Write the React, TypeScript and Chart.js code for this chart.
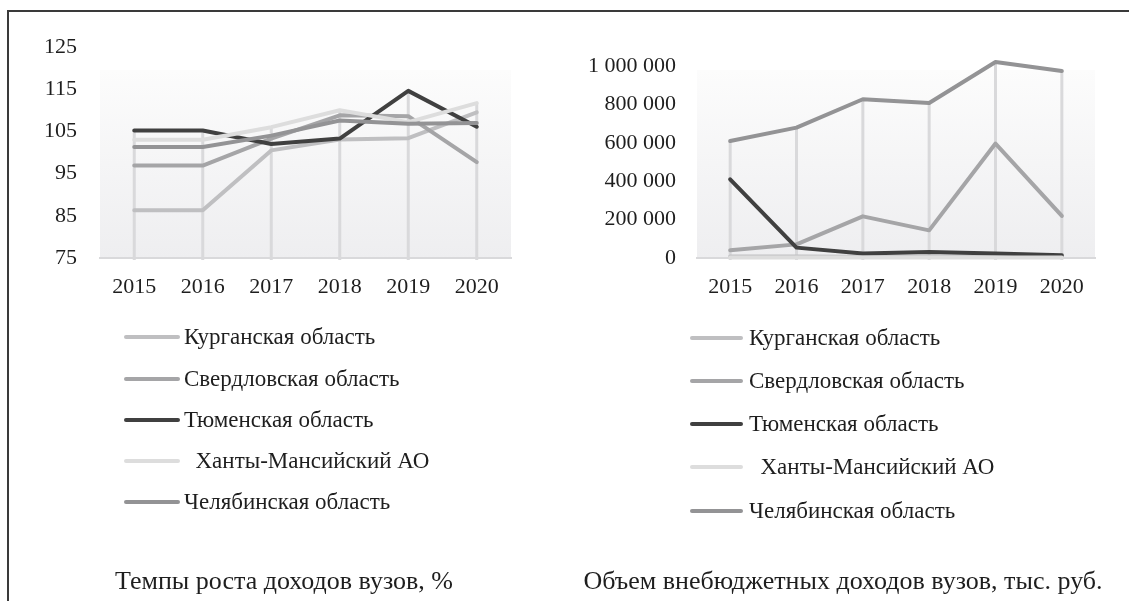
import React, { useEffect, useRef } from 'react';
import { Chart, registerables } from 'chart.js';

Chart.register(...registerables);

const FONT = '"Liberation Serif", "Times New Roman", serif';
const TEXT_COLOR = '#1e1e1e';

// ---- data ----
const years = ['2015', '2016', '2017', '2018', '2019', '2020'];
const regions = [
  'Курганская область',
  'Свердловская область',
  'Тюменская область',
  '  Ханты-Мансийский АО',
  'Челябинская область',
];
const regionColors = ['#bfbfc1', '#a5a5a7', '#404040', '#dddddd', '#939395'];

// Темпы роста доходов вузов, %
const growthKurgan = [86.3, 86.3, 100.5, 103.1, 103.4, 109.5];
const growthSverdlovsk = [96.9, 96.9, 103.3, 108.8, 108.6, 97.7];
const growthTyumen = [105.2, 105.2, 102.0, 103.3, 114.6, 106.1];
const growthKhmao = [103.0, 103.0, 106.0, 110.0, 107.2, 111.7];
const growthChelyabinsk = [101.3, 101.3, 104.0, 107.6, 106.8, 107.0];
const growthTicks = [75, 85, 95, 105, 115, 125];

// Объем внебюджетных доходов вузов, тыс. руб.
const incomeKurgan = [8000, 8000, 6000, 6000, 6000, 6000];
const incomeSverdlovsk = [40000, 71000, 217000, 144000, 596000, 219000];
const incomeTyumen = [410000, 54000, 23000, 31000, 23000, 14000];
const incomeKhmao = [2000, 2000, 2000, 2000, 2000, 2000];
const incomeChelyabinsk = [609000, 679000, 827000, 807000, 1021000, 974000];
const incomeTicks = [0, 200000, 400000, 600000, 800000, 1000000];

const titleGrowth = 'Темпы роста доходов вузов, %';
const titleIncome = 'Объем внебюджетных доходов вузов, тыс. руб.';

const spaced = (v: number) => String(v).replace(/\B(?=(\d{3})+(?!\d))/g, ' ');

// ---- decoration plugin: plot background, drop lines, vertical legend, bottom title ----
const decoPlugin = {
  id: 'deco',
  beforeDraw(chart: any, _args: any, o: any) {
    const { ctx, chartArea: a } = chart;
    ctx.save();
    const g = ctx.createLinearGradient(0, o.bgTop, 0, a.bottom);
    g.addColorStop(0, '#fcfcfc');
    g.addColorStop(1, '#eeeef0');
    ctx.fillStyle = g;
    ctx.fillRect(a.left, o.bgTop, a.right - a.left, a.bottom - o.bgTop);
    ctx.restore();
  },
  beforeDatasetsDraw(chart: any) {
    const { ctx, chartArea: a } = chart;
    const xs = chart.scales.x;
    const ys = chart.scales.y;
    const n = chart.data.labels.length;
    ctx.save();
    ctx.strokeStyle = '#d9d9db';
    ctx.lineWidth = 3;
    for (let i = 0; i < n; i++) {
      const max = Math.max(...chart.data.datasets.map((d: any) => d.data[i]));
      const x = xs.getPixelForValue(i);
      ctx.beginPath();
      ctx.moveTo(x, ys.getPixelForValue(max));
      ctx.lineTo(x, a.bottom + 2);
      ctx.stroke();
    }
    ctx.restore();
  },
  afterDraw(chart: any, _args: any, o: any) {
    const { ctx } = chart;
    ctx.save();
    ctx.textBaseline = 'middle';
    ctx.textAlign = 'left';
    ctx.font = `${o.legendSize}px ${FONT}`;
    chart.data.datasets.forEach((d: any, i: number) => {
      const y = o.rows[i];
      ctx.strokeStyle = d.borderColor;
      ctx.lineWidth = 4;
      ctx.lineCap = 'round';
      ctx.beginPath();
      ctx.moveTo(o.x1, y);
      ctx.lineTo(o.x2, y);
      ctx.stroke();
      ctx.fillStyle = TEXT_COLOR;
      ctx.fillText(d.label, o.tx, y + 1);
    });
    ctx.font = `${o.titleSize}px ${FONT}`;
    ctx.textAlign = 'center';
    ctx.fillText(o.title, o.titleX, o.titleY);
    ctx.restore();
  },
};

function makeConfig(p: any) {
  return {
    type: 'line',
    data: {
      labels: years,
      datasets: p.series.map((s: number[], i: number) => ({
        label: regions[i],
        data: s,
        borderColor: regionColors[i],
        backgroundColor: regionColors[i],
        borderWidth: 4,
        pointRadius: 0,
        pointHoverRadius: 0,
        tension: 0,
        fill: false,
        clip: false,
        borderCapStyle: 'round',
        borderJoinStyle: 'round',
        order: p.series.length - i,
      })),
    },
    options: {
      animation: false,
      responsive: true,
      maintainAspectRatio: false,
      layout: { padding: p.padding },
      scales: {
        x: {
          offset: true,
          grid: { display: false, drawTicks: false, offset: true },
          border: { display: true, color: '#d9d9db', width: 2 },
          ticks: { color: TEXT_COLOR, font: { family: FONT, size: 22 }, padding: 16, maxRotation: 0 },
          afterFit: (s: any) => { s.height = 45; },
        },
        y: {
          min: p.min,
          max: p.max,
          grid: { display: false, drawTicks: false },
          border: { display: false },
          afterBuildTicks: (s: any) => { s.ticks = p.ticks.map((v: number) => ({ value: v })); },
          ticks: {
            color: TEXT_COLOR,
            font: { family: FONT, size: 22 },
            padding: p.tickPad,
            callback: (v: number) => spaced(v),
          },
          afterFit: (s: any) => { s.width = p.axisWidth; },
        },
      },
      plugins: {
        legend: { display: false },
        tooltip: { enabled: false },
        title: { display: false },
        deco: {
          bgTop: 70,
          x1: p.legend.x1,
          x2: p.legend.x2,
          tx: p.legend.tx,
          rows: p.legend.rows,
          legendSize: 23,
          title: p.title,
          titleX: p.titleX,
          titleY: 582,
          titleSize: 26,
        },
      },
    },
    plugins: [decoPlugin],
  };
}

const growthConfig = () =>
  makeConfig({
    series: [growthKurgan, growthSverdlovsk, growthTyumen, growthKhmao, growthChelyabinsk],
    min: 75,
    max: 125,
    ticks: growthTicks,
    tickPad: 23,
    axisWidth: 100,
    padding: { left: 0, right: 49, top: 47, bottom: 298 },
    legend: { x1: 126, x2: 178, tx: 184, rows: [337, 379, 420, 461, 502] },
    title: titleGrowth,
    titleX: 284,
  });

const incomeConfig = () =>
  makeConfig({
    series: [incomeKurgan, incomeSverdlovsk, incomeTyumen, incomeKhmao, incomeChelyabinsk],
    min: 0,
    max: 1000000,
    ticks: incomeTicks,
    tickPad: 21,
    axisWidth: 137,
    padding: { left: 0, right: 34, top: 66, bottom: 298 },
    legend: { x1: 132, x2: 181, tx: 189, rows: [338, 381, 424, 467, 511] },
    title: titleIncome,
    titleX: 283,
  });

function Panel({ left, width, build }: { left: number; width: number; build: () => any }) {
  const ref = useRef<HTMLCanvasElement>(null);
  useEffect(() => {
    const chart = new Chart(ref.current as HTMLCanvasElement, build());
    return () => chart.destroy();
  }, [build]);
  return (
    <div style={{ position: 'absolute', left, top: 0, width, height: 601 }}>
      <canvas ref={ref} />
    </div>
  );
}

export default function App() {
  return (
    <div
      style={{
        position: 'fixed',
        left: 0,
        top: 0,
        width: 1129,
        height: 601,
        background: '#ffffff',
        overflow: 'hidden',
      }}
    >
      <Panel left={0} width={560} build={growthConfig} />
      <Panel left={560} width={569} build={incomeConfig} />
      <div
        style={{
          position: 'absolute',
          left: 7,
          top: 10,
          right: 0,
          bottom: 0,
          borderTop: '2px solid #3a3a3a',
          borderLeft: '2px solid #3a3a3a',
          pointerEvents: 'none',
        }}
      />
    </div>
  );
}
